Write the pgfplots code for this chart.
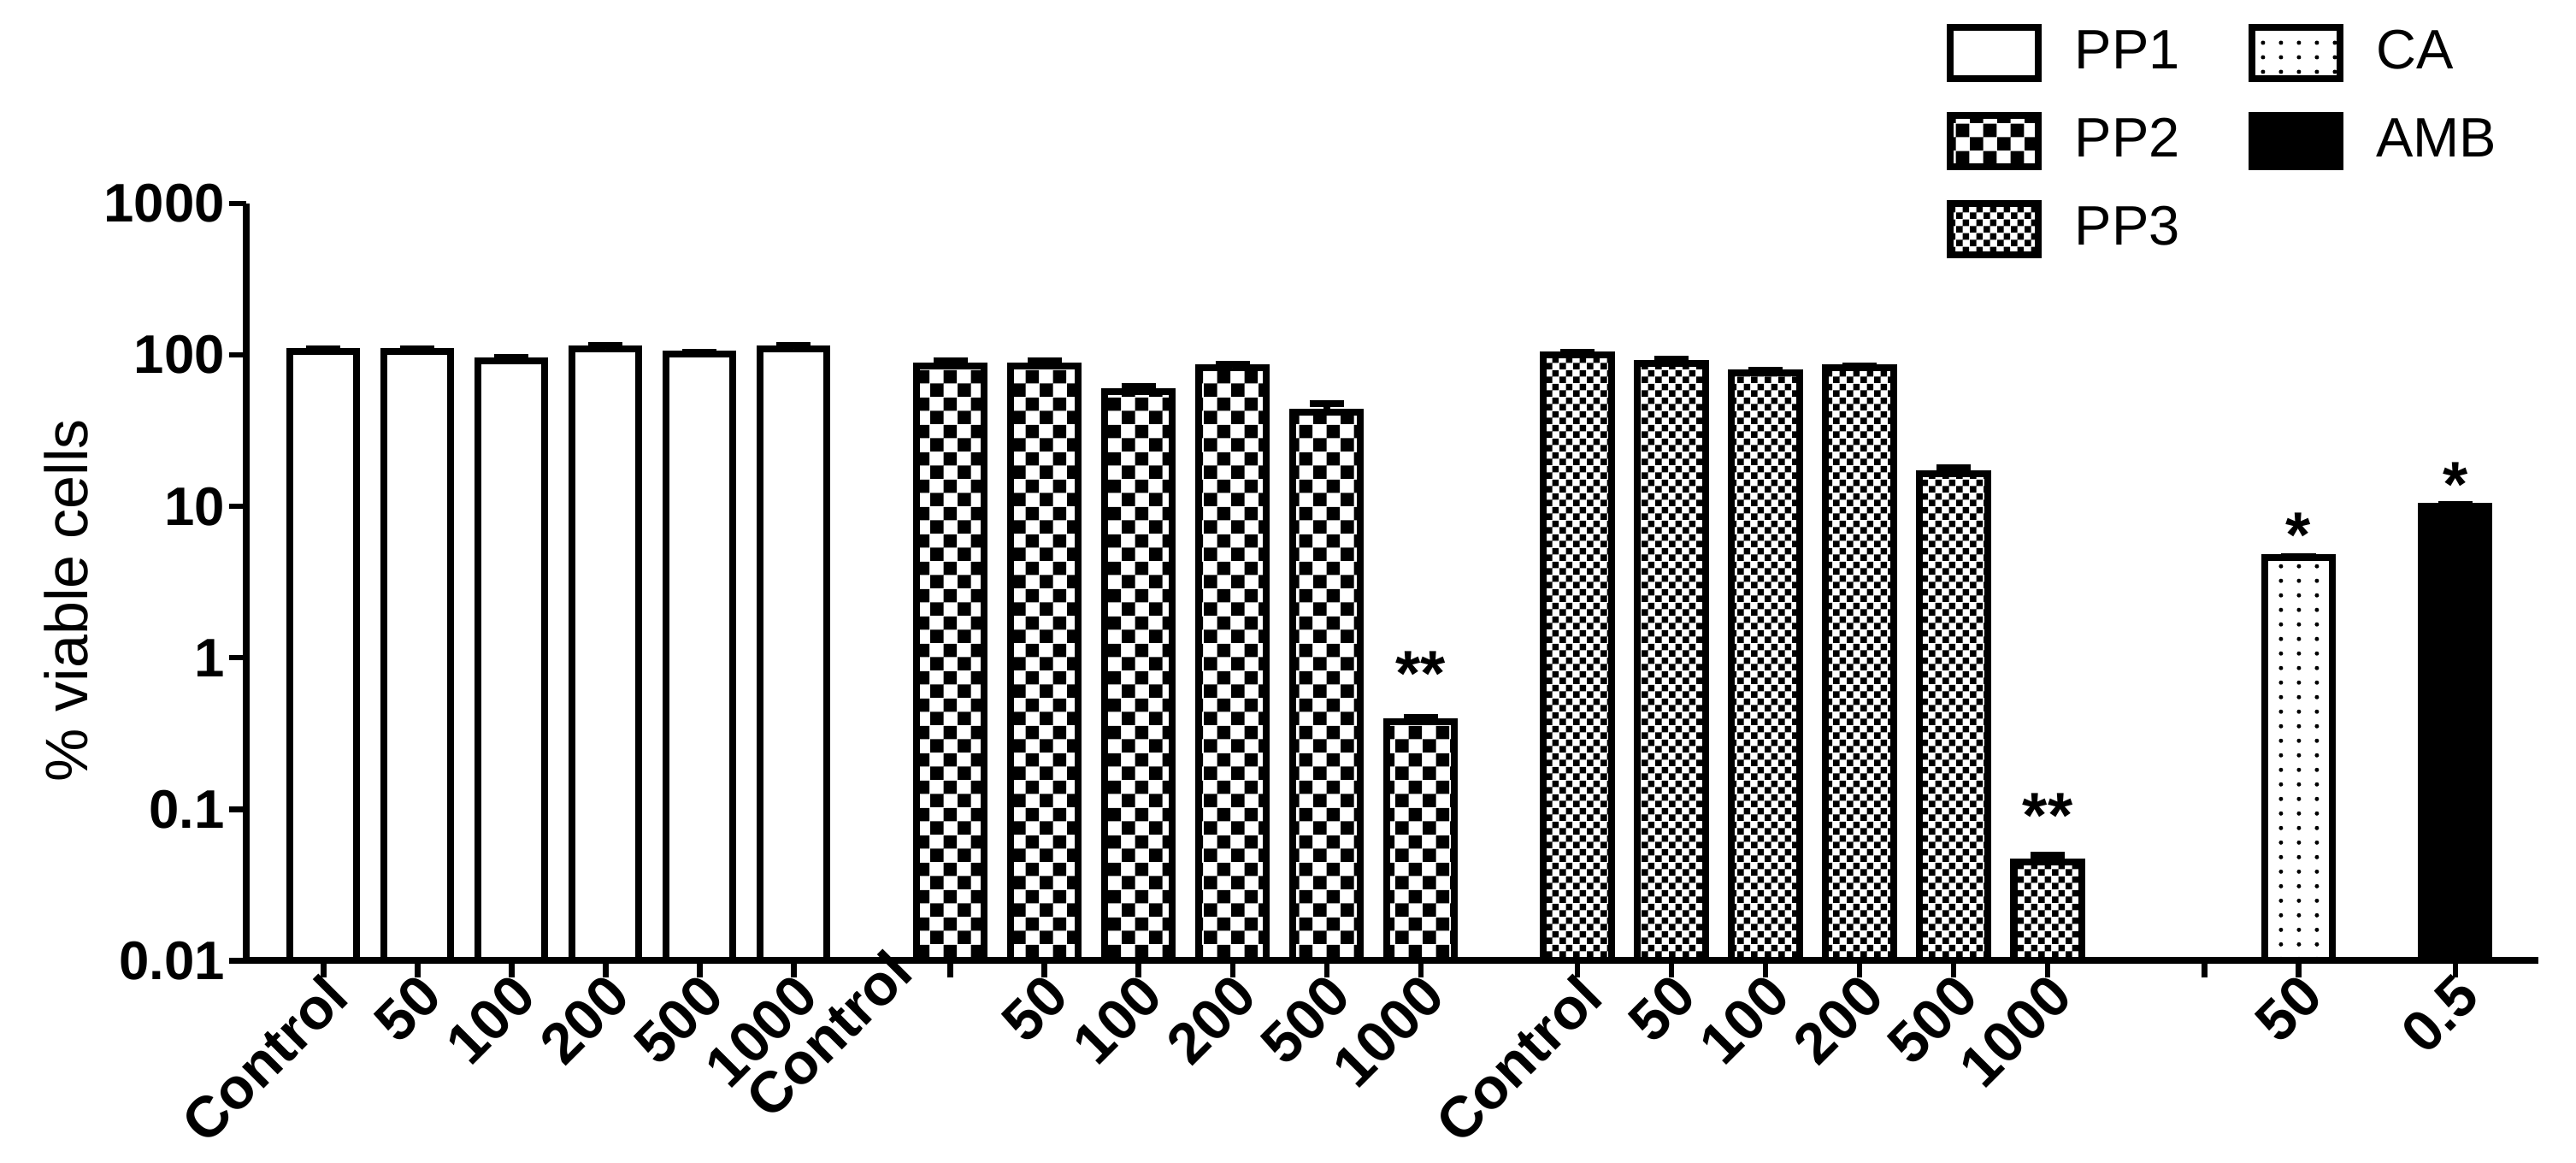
\documentclass[border=0pt]{standalone}
\usepackage{fontspec}
\setmainfont{Liberation Sans}
\usepackage{pgfplots}
\pgfplotsset{compat=1.18}
\usetikzlibrary{patterns}

\pgfdeclarepatternformonly{bigcheck}{\pgfpointorigin}{\pgfqpoint{6.4pt}{6.4pt}}{\pgfqpoint{6.4pt}{6.4pt}}{%
  \pgfpathrectangle{\pgfpointorigin}{\pgfqpoint{3.2pt}{3.2pt}}%
  \pgfpathrectangle{\pgfqpoint{3.2pt}{3.2pt}}{\pgfqpoint{3.2pt}{3.2pt}}%
  \pgfusepath{fill}}
\pgfdeclarepatternformonly{smallcheck}{\pgfpointorigin}{\pgfqpoint{3.2pt}{3.2pt}}{\pgfqpoint{3.2pt}{3.2pt}}{%
  \pgfpathrectangle{\pgfpointorigin}{\pgfqpoint{1.6pt}{1.6pt}}%
  \pgfpathrectangle{\pgfqpoint{1.6pt}{1.6pt}}{\pgfqpoint{1.6pt}{1.6pt}}%
  \pgfusepath{fill}}
\pgfdeclarepatternformonly{sparsedots}{\pgfqpoint{-0.6pt}{-0.6pt}}{\pgfqpoint{0.6pt}{0.6pt}}{\pgfqpoint{4.2pt}{3.4pt}}{%
  \pgfpathcircle{\pgfpointorigin}{0.5pt}\pgfusepath{fill}}

\begin{document}
\begin{tikzpicture}
\useasboundingbox (-57.6pt,-47.2pt) rectangle (544.8pt,224.6pt);
\begin{axis}[
  scale only axis,
  width=536pt, height=177pt,
  at={(0,0)}, anchor=south west,
  ymode=log, log origin y=infty,
  ymin=0.01, ymax=1000,
  xmin=-0.82, xmax=23.55,
  axis x line*=bottom, axis y line*=left,
  axis line style={line width=1.6pt,-},
  tick align=outside, major tick length=4pt,
  tick style={line width=1.3pt,black},
  yminorticks=false,
  ytick={0.01,0.1,1,10,100,1000},
  yticklabels={0.01,0.1,1,10,100,1000},
  yticklabel style={font=\fontsize{12.7}{15}\selectfont\bfseries, xshift=2.5pt},
  xtick={0,1,2,3,4,5,6.667,7.667,8.667,9.667,10.667,11.667,13.333,14.333,15.333,16.333,17.333,18.333,20,21,22.667},
  xticklabels={Control,50,100,200,500,1000,{},50,100,200,500,1000,Control,50,100,200,500,1000,{},50,0.5},
  xticklabel style={font=\fontsize{13.5}{15}\selectfont\bfseries, rotate=45, anchor=north east, inner sep=1pt, xshift=2pt, yshift=2.5pt},
  extra x ticks={6.08},
  extra x tick labels={Control},
  extra x tick style={major tick length=0pt, xticklabel style={yshift=2.5pt}},
  ylabel={\% viable cells},
  ylabel style={font=\fontsize{14}{16}\selectfont, at={(axis description cs:-0.0787,0.476)}, anchor=center},
  legend columns=2,
  legend cell align=left,
  legend style={draw=none, fill=none, at={(0.736,1.2525)}, anchor=north west,
    font=\fontsize{13}{15}\selectfont, row sep=6pt,
    /tikz/every odd column/.append style={column sep=5.7pt},
    /tikz/every even column/.append style={column sep=14pt}},
  error bars/y dir=plus, error bars/y explicit,
  error bars/error mark=|,
  error bars/error bar style={line width=1.6pt},
  error bars/error mark options={line width=1.6pt, mark size=4pt},
]
% PP1
\addplot[ybar, bar width=0.71, bar shift=0pt, draw=black, line width=1.6pt, fill=white, forget plot]
  coordinates {(0,106) +- (0,4) (1,106) +- (0,4) (2,92) +- (0,4) (3,109) +- (0,7) (4,102) +- (0,2) (5,109) +- (0,7)};
% PP2
\addplot[ybar, bar width=0.72, bar shift=0pt, draw=black, line width=1.6pt, fill=white, postaction={pattern=bigcheck}, forget plot]
  coordinates {(6.667,85) +- (0,6) (7.667,85) +- (0,6) (8.667,57) +- (0,5) (9.667,82) +- (0,5) (10.667,42) +- (0,6) (11.667,0.38) +- (0,0.025)};
% PP3
\addplot[ybar, bar width=0.72, bar shift=0pt, draw=black, line width=1.6pt, fill=white, postaction={pattern=smallcheck}, forget plot]
  coordinates {(13.333,100) +- (0,4) (14.333,88) +- (0,6) (15.333,76) +- (0,3) (16.333,82) +- (0,3) (17.333,16.5) +- (0,1.5) (18.333,0.045) +- (0,0.005)};
% CA
\addplot[ybar, bar width=0.72, bar shift=0pt, draw=black, line width=1.6pt, fill=white, postaction={pattern=sparsedots}, forget plot]
  coordinates {(21,4.6) +- (0,0.05)};
% AMB
\addplot[ybar, bar width=0.72, bar shift=0pt, draw=black, line width=1.6pt, fill=black, forget plot]
  coordinates {(22.667,10) +- (0,0.3)};

\node[anchor=base, font=\fontsize{15}{17}\selectfont\bfseries] at (axis cs:11.667,0.56) {**};
\node[anchor=base, font=\fontsize{15}{17}\selectfont\bfseries] at (axis cs:18.333,0.065) {**};
\node[anchor=base, font=\fontsize{15}{17}\selectfont\bfseries] at (axis cs:21,4.6) {*};
\node[anchor=base, font=\fontsize{15}{17}\selectfont\bfseries] at (axis cs:22.667,10) {*};

\addlegendimage{legend image code/.code={\draw[line width=1.6pt,fill=white] (0pt,-6pt) rectangle (20.6pt,6pt);}}
\addlegendentry{PP1}
\addlegendimage{legend image code/.code={\draw[line width=1.6pt,fill=white,postaction={pattern=sparsedots}] (0pt,-6pt) rectangle (20.6pt,6pt);}}
\addlegendentry{CA}
\addlegendimage{legend image code/.code={\draw[line width=1.6pt,fill=white,postaction={pattern=bigcheck}] (0pt,-6pt) rectangle (20.6pt,6pt);}}
\addlegendentry{PP2}
\addlegendimage{legend image code/.code={\draw[line width=1.6pt,fill=black] (0pt,-6pt) rectangle (20.6pt,6pt);}}
\addlegendentry{AMB}
\addlegendimage{legend image code/.code={\draw[line width=1.6pt,fill=white,postaction={pattern=smallcheck}] (0pt,-6pt) rectangle (20.6pt,6pt);}}
\addlegendentry{PP3}
\end{axis}
\end{tikzpicture}
\end{document}
